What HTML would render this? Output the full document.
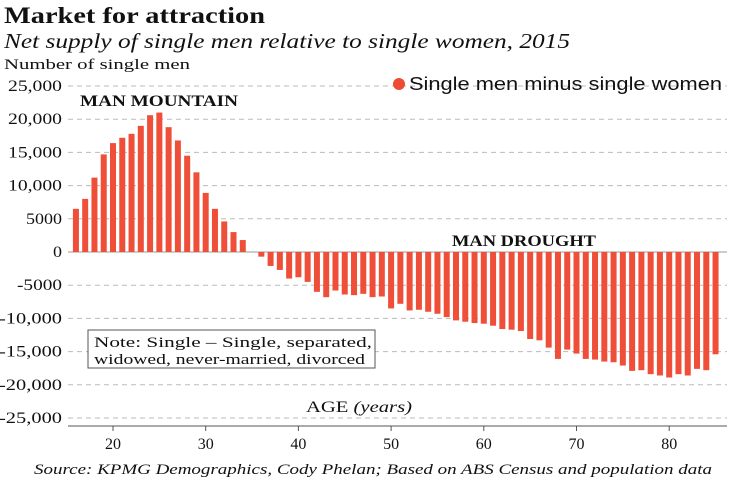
<!DOCTYPE html>
<html><head><meta charset="utf-8">
<style>
body{margin:0;background:#fff;}
svg{display:block;font-family:"Liberation Serif",serif;}
</style></head><body>
<svg id="c" width="729" height="495">
<text x="4" y="23" font-size="23" font-weight="bold" fill="#111" textLength="261" lengthAdjust="spacingAndGlyphs">Market for attraction</text>
<text x="4" y="48" font-size="21" font-style="italic" fill="#111" textLength="566" lengthAdjust="spacingAndGlyphs">Net supply of single men relative to single women, 2015</text>
<text x="4" y="69" font-size="15" fill="#111" textLength="186" lengthAdjust="spacingAndGlyphs">Number of single men</text>
<g id="grid"></g>
<g id="bars"></g>
<g id="xt"></g>
<circle cx="399" cy="84" r="6" fill="#ee4b35"/>
<text x="409" y="90" font-family="Liberation Sans, sans-serif" font-size="18" fill="#111" textLength="313" lengthAdjust="spacingAndGlyphs">Single men minus single women</text>
<text x="80" y="106" font-size="16" font-weight="bold" fill="#111" textLength="158" lengthAdjust="spacingAndGlyphs">MAN MOUNTAIN</text>
<text x="452" y="246" font-size="16" font-weight="bold" fill="#111" textLength="144" lengthAdjust="spacingAndGlyphs">MAN DROUGHT</text>
<rect x="88" y="330" width="287" height="38" fill="#fff" stroke="#555"/>
<text x="94" y="347" font-size="15" fill="#111" textLength="278" lengthAdjust="spacingAndGlyphs">Note: Single – Single, separated,</text>
<text x="94" y="364" font-size="15" fill="#111" textLength="271" lengthAdjust="spacingAndGlyphs">widowed, never-married, divorced</text>
<text x="306" y="412" font-size="16" fill="#111" textLength="106" lengthAdjust="spacingAndGlyphs">AGE <tspan font-style="italic">(years)</tspan></text>
<text x="34" y="474" font-size="15" font-style="italic" fill="#111" textLength="678" lengthAdjust="spacingAndGlyphs">Source: KPMG Demographics, Cody Phelan; Based on ABS Census and population data</text>
</svg>
<script>
const ages=[];for(let a=16;a<=85;a++)ages.push(a);
const values=[6500,8000,11200,14700,16400,17200,17800,19000,20600,21000,18800,16800,14500,12000,8900,6500,4600,3000,1800,0,
-700,-2100,-2700,-4000,-3800,-4500,-6000,-6800,-5800,-6400,-6500,-6300,-6800,-6700,-8500,-7800,-8800,-8700,-9000,-9300,-9800,-10300,
-10500,-10700,
-10800,-11100,-11600,-11700,-11900,-13100,-13300,-14400,-16100,-14700,-15300,-16100,-16200,-16500,-16600,-17100,-17900,-17800,-18400,-18600,-18900,-18400,-18600,-17600,-17800,-15400];
const yTicks=[25000,20000,15000,10000,5000,0,-5000,-10000,-15000,-20000,-25000];
const yLabels=["25,000","20,000","15,000","10,000","5000","0","-5000","-10,000","-15,000","-20,000","-25,000"];
const xTicks=[20,30,40,50,60,70,80];
const NS="http://www.w3.org/2000/svg";
const y=v=>252-v*(166/25000);
const x=a=>113+(a-20)*9.27;
const g=document.getElementById('grid');
yTicks.forEach((t,i)=>{
 const l=document.createElementNS(NS,'line');
 l.setAttribute('x1',68);l.setAttribute('x2',727);l.setAttribute('y1',y(t));l.setAttribute('y2',y(t));
 l.setAttribute('stroke',t===0?'#999':'#bbb');l.setAttribute('stroke-width',1);
 if(t!==0)l.setAttribute('stroke-dasharray','5,4');
 
 
 g.appendChild(l);
 const tx=document.createElementNS(NS,'text');
 tx.setAttribute('x',62);tx.setAttribute('y',y(t)+5);tx.setAttribute('text-anchor','end');
 tx.setAttribute('font-size','16');tx.setAttribute('fill','#111');tx.textContent=yLabels[i];
 tx.setAttribute('textLength',yLabels[i].length*9);tx.setAttribute('lengthAdjust','spacingAndGlyphs');
 
 
 g.appendChild(tx);
});
const b=document.getElementById('bars');
ages.forEach((a,i)=>{
 const v=values[i];if(v===0)return;
 const r=document.createElementNS(NS,'rect');
 r.setAttribute('x',x(a)-3);r.setAttribute('width',6);
 r.setAttribute('y',Math.min(y(v),y(0)));r.setAttribute('height',Math.abs(y(v)-y(0)));
 r.setAttribute('fill','#ef4f38');
 
 
 b.appendChild(r);
});
const xt=document.getElementById('xt');
xTicks.forEach(t=>{
 const tx=document.createElementNS(NS,'text');
 tx.setAttribute('x',x(t));tx.setAttribute('y',449);tx.setAttribute('text-anchor','middle');
 tx.setAttribute('font-size','16');tx.setAttribute('fill','#111');tx.textContent=t;
 
 
 xt.appendChild(tx);
 const l=document.createElementNS(NS,'line');
 l.setAttribute('x1',x(t));l.setAttribute('x2',x(t));l.setAttribute('y1',426);l.setAttribute('y2',431);
 l.setAttribute('stroke','#555');
 
 
 xt.appendChild(l);
});
const ax=document.createElementNS(NS,'line');
ax.setAttribute('x1',68);ax.setAttribute('x2',727);ax.setAttribute('y1',426);ax.setAttribute('y2',426);ax.setAttribute('stroke','#555');


xt.appendChild(ax);
</script>
</body></html>
